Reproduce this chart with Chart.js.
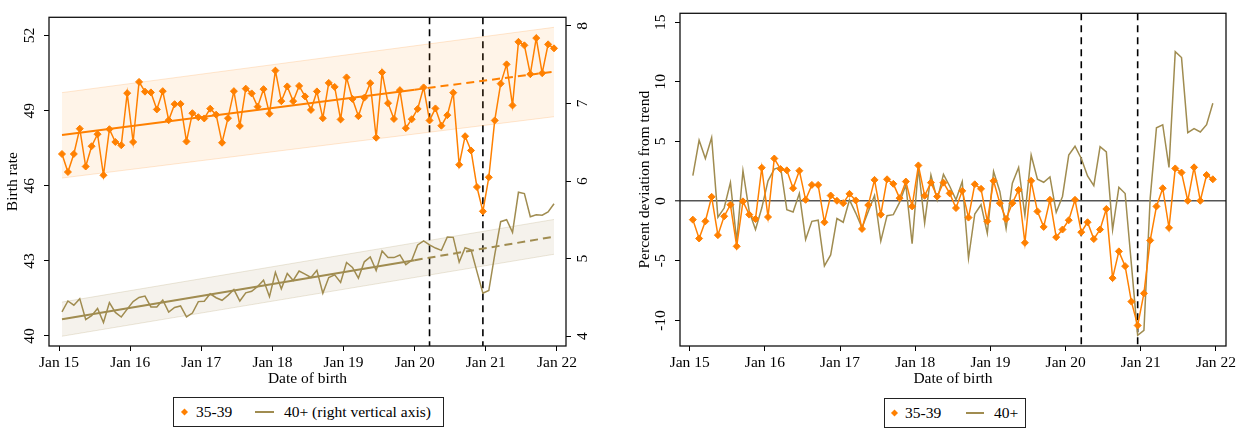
<!DOCTYPE html>
<html>
<head>
<meta charset="utf-8">
<script src="https://cdn.jsdelivr.net/npm/chart.js@4.4.0/dist/chart.umd.min.js"></script>
<style>
  body { margin: 0; background: #fff; width: 1247px; height: 428px; position: relative; overflow: hidden;
         font-family: 'Liberation Serif', 'Times New Roman', serif; color: #000; }
  #c1 { position: absolute; left: 0; top: 0; }
  #c2 { position: absolute; left: 620px; top: 0; }
  .legend { position: absolute; border: 1px solid #222; box-sizing: border-box; height: 30px; font-size: 15.5px; }
  .legend span { position: absolute; top: 50%; transform: translateY(-50%); white-space: nowrap; }
  .legend .dia { width: 5px; height: 5px; background: #ff8000; transform: translateY(-50%) rotate(45deg); margin-left: -2.5px; }
  .legend .ln { height: 2px; background: #a08c50; }
</style>
</head>
<body>
<canvas id="c1" width="615" height="392"></canvas>
<canvas id="c2" width="627" height="392"></canvas>

<div class="legend" style="left:173px; top:397px; width:271px;">
  <span class="dia" style="left:10px;"></span>
  <span style="left:22px;">35-39</span>
  <span class="ln" style="left:81px; width:19px;"></span>
  <span style="left:110px;">40+ (right vertical axis)</span>
</div>
<div class="legend" style="left:884px; top:398px; width:142px;">
  <span class="dia" style="left:9px;"></span>
  <span style="left:20px;">35-39</span>
  <span class="ln" style="left:81px; width:18px;"></span>
  <span style="left:109px;">40+</span>
</div>

<script>
// months counted from Jan 2015, each value sits at mid-month
const xTickMonths = [0, 12, 24, 36, 48, 60, 72, 84];
const xTickLabels = ['Jan 15', 'Jan 16', 'Jan 17', 'Jan 18', 'Jan 19', 'Jan 20', 'Jan 21', 'Jan 22'];
const breakMonths = [62.5, 71.5]; // Mar 2020, Dec 2020

// birth rate, age 35-39 (left axis)
const rate3539 = [
  47.27, 46.55, 47.27, 48.28, 46.77, 47.58, 48.06, 46.42, 48.26, 47.75, 47.62, 49.70,
  47.75, 50.15, 49.76, 49.73, 49.05, 49.78, 48.62, 49.26, 49.27, 47.77, 48.90, 48.74,
  48.69, 49.08, 48.84, 47.72, 48.70, 49.78, 48.39, 49.88, 49.69, 49.16, 49.86, 48.88,
  50.60, 49.38, 49.97, 49.38, 49.99, 49.57, 49.03, 49.77, 48.70, 50.11, 49.95, 48.65,
  50.33, 49.47, 48.78, 49.52, 50.10, 47.92, 50.53, 49.30, 48.67, 49.82, 48.30, 48.66,
  49.07, 49.93, 48.61, 49.09, 48.40, 48.82, 49.72, 46.84, 47.98, 47.41, 45.95, 44.98,
  46.34, 48.61, 50.08, 50.85, 49.21, 51.75, 51.61, 50.46, 51.90, 50.50, 51.65, 51.49
];
// birth rate, age 40+ (right axis)
const rate40 = [
  4.315, 4.454, 4.400, 4.484, 4.215, 4.265, 4.357, 4.177, 4.433, 4.307, 4.248, 4.349,
  4.446, 4.500, 4.517, 4.378, 4.378, 4.467, 4.310, 4.370, 4.390, 4.248, 4.299, 4.446,
  4.450, 4.547, 4.496, 4.463, 4.526, 4.601, 4.454, 4.559, 4.580, 4.640, 4.723, 4.509,
  4.824, 4.610, 4.808, 4.719, 4.840, 4.800, 4.757, 4.850, 4.555, 4.757, 4.791, 4.694,
  4.950, 4.887, 4.749, 4.959, 5.022, 4.845, 5.098, 5.013, 5.013, 5.047, 4.921, 4.980,
  5.177, 5.228, 5.177, 5.136, 5.106, 5.278, 5.274, 4.955, 5.140, 5.114, 4.833, 4.555,
  4.589, 5.051, 5.476, 5.502, 5.338, 5.855, 5.838, 5.539, 5.565, 5.560, 5.602, 5.707
];

// pre-2020 linear trends (solid, then dashed extrapolation) and their bands
const trendMonths = [0.5, 60, 83.5];
const trend3539 = [48.03, 49.84, 50.56];
const trend40 = [4.218, 4.98, 5.283];
const bandMonths = [0.5, 83.5];
const band3539Low = [46.31, 48.76];
const band3539High = [49.72, 52.33];
const band40Low = [4.00, 5.056];
const band40High = [4.44, 5.505];

// percent deviation from trend
const dev3539 = [
  -1.55, -3.13, -1.69, 0.36, -2.85, -1.27, -0.30, -3.79, -0.02, -1.13, -1.50, 2.80,
  -1.33, 3.57, 2.69, 2.58, 1.08, 2.55, 0.11, 1.36, 1.36, -1.77, 0.47, 0.03,
  -0.17, 0.61, 0.06, -2.33, -0.33, 1.78, -1.13, 1.83, 1.45, 0.25, 1.64, -0.44,
  2.99, 0.45, 1.55, 0.39, 1.55, 0.65, -0.58, 0.86, -1.38, 1.41, 1.03, -1.69,
  1.70, -0.17, -1.50, -0.17, 0.94, -3.49, 1.70, -0.86, -2.16, 0.11, -3.02, -2.38,
  -1.60, 0.11, -2.60, -1.77, -3.18, -2.38, -0.66, -6.45, -4.21, -5.45, -8.42, -10.42,
  -7.73, -3.29, -0.44, 1.08, -2.24, 2.74, 2.39, 0.03, 2.83, 0.03, 2.19, 1.83
];
const dev40 = [
  2.14, 5.10, 3.57, 5.32, -1.35, -0.58, 1.55, -3.35, 2.55, -0.86, -2.38, -0.58,
  1.70, 2.69, 2.86, -0.72, -0.91, 0.64, -3.21, -1.69, -1.60, -5.43, -4.51, -1.46,
  -1.77, 0.11, -1.00, -2.24, -0.86, 0.47, -3.35, -1.22, -1.13, -0.11, 1.36, -3.57,
  2.80, -1.83, 2.19, 0.11, 2.24, 1.25, 0.11, 1.64, -4.79, -1.08, -0.30, -2.69,
  2.49, 0.81, -2.30, 1.50, 2.83, -1.19, 3.86, 1.83, 1.58, 2.03, -0.94, 0.39,
  3.86, 4.60, 3.57, 2.11, 1.30, 4.57, 4.13, -2.38, 1.16, 0.64, -5.30, -11.25,
  -10.83, 0.25, 6.15, 6.40, 2.83, 12.53, 12.03, 5.74, 6.07, 5.79, 6.40, 8.20
];

const leftTicks = [40, 43, 46, 49, 52];
const rightTicks = [4, 5, 6, 7, 8];
const devTicks = [-10, -5, 0, 5, 10, 15];

const orange = '#ff8000';
const olive = '#a08c50';
const font = { family: "'Liberation Serif', 'Times New Roman', serif", size: 15.5 };
Chart.defaults.font = font;
Chart.defaults.color = '#000';

const monthly = vals => vals.map((v, i) => ({ x: i + 0.5, y: v }));
const pair = (xs, ys) => xs.map((x, k) => ({ x: x, y: ys[k] }));
const setTicks = list => axis => { axis.ticks = list.map(v => ({ value: v })); };

const frameAndBreaks = {
  id: 'frameAndBreaks',
  beforeDatasetsDraw(chart) {
    const { ctx, chartArea: a, scales } = chart;
    ctx.save();
    ctx.strokeStyle = '#000';
    ctx.lineWidth = 1.6;
    ctx.setLineDash([7, 5]);
    breakMonths.forEach(m => {
      const x = scales.x.getPixelForValue(m);
      ctx.beginPath();
      ctx.moveTo(x, a.top);
      ctx.lineTo(x, a.bottom);
      ctx.stroke();
    });
    ctx.restore();
  },
  afterDraw(chart) {
    const { ctx, chartArea: a } = chart;
    ctx.save();
    ctx.strokeStyle = '#111';
    ctx.lineWidth = 1.3;
    ctx.strokeRect(a.left, a.top, a.right - a.left, a.bottom - a.top);
    ctx.restore();
  }
};

const tickGrid = { drawOnChartArea: false, tickLength: 5, tickColor: '#000', tickWidth: 1 };
const yTickOpts = pad => ({ minRotation: 90, maxRotation: 90, crossAlign: 'center', padding: pad, autoSkip: false, color: '#000', font: font });

function xScale(min, max) {
  return {
    type: 'linear', min: min, max: max,
    afterBuildTicks: setTicks(xTickMonths),
    ticks: { callback: v => xTickLabels[xTickMonths.indexOf(v)], autoSkip: false, maxRotation: 0, padding: 3, color: '#000', font: font },
    grid: tickGrid,
    border: { display: false },
    title: { display: true, text: 'Date of birth', color: '#000', font: font, padding: { top: 0, bottom: 4 } },
    afterFit: s => { s.height = 46; }
  };
}

const trendSegment = { borderDash: c => c.p0DataIndex >= 1 ? [8, 5] : undefined };

new Chart(document.getElementById('c1'), {
  type: 'line',
  data: {
    datasets: [
      { label: '35-39', data: monthly(rate3539), yAxisID: 'y', borderColor: orange, borderWidth: 1.5,
        pointStyle: 'rectRot', pointRadius: 3.5, pointBackgroundColor: orange, pointBorderColor: orange, pointBorderWidth: 1 },
      { label: '40+ (right vertical axis)', data: monthly(rate40), yAxisID: 'y1', borderColor: olive, borderWidth: 1.5, pointRadius: 0 },
      { data: pair(trendMonths, trend3539), yAxisID: 'y', borderColor: orange, borderWidth: 2, pointRadius: 0, segment: trendSegment },
      { data: pair(trendMonths, trend40), yAxisID: 'y1', borderColor: olive, borderWidth: 2, pointRadius: 0, segment: trendSegment },
      { data: pair(bandMonths, band3539High), yAxisID: 'y', borderColor: 'rgba(255,128,0,0.18)', borderWidth: 1, pointRadius: 0,
        fill: 5, backgroundColor: 'rgba(255,128,0,0.09)' },
      { data: pair(bandMonths, band3539Low), yAxisID: 'y', borderColor: 'rgba(255,128,0,0.18)', borderWidth: 1, pointRadius: 0, fill: false },
      { data: pair(bandMonths, band40High), yAxisID: 'y1', borderColor: 'rgba(160,140,80,0.2)', borderWidth: 1, pointRadius: 0,
        fill: 7, backgroundColor: 'rgba(160,140,80,0.11)' },
      { data: pair(bandMonths, band40Low), yAxisID: 'y1', borderColor: 'rgba(160,140,80,0.2)', borderWidth: 1, pointRadius: 0, fill: false }
    ]
  },
  options: {
    responsive: false, animation: false, devicePixelRatio: 1,
    layout: { padding: { top: 10, left: 0, right: 0, bottom: 0 } },
    plugins: { legend: { display: false }, tooltip: { enabled: false } },
    scales: {
      x: xScale(-1.69, 85.52),
      y: {
        position: 'left', min: 39.6, max: 52.73,
        afterBuildTicks: setTicks(leftTicks),
        ticks: yTickOpts(6), grid: tickGrid, border: { display: false },
        title: { display: true, text: 'Birth rate', color: '#000', font: font, padding: { top: 4, bottom: 0 } },
        afterFit: s => { s.width = 49; }
      },
      y1: {
        position: 'right', min: 3.874, max: 8.11,
        afterBuildTicks: setTicks(rightTicks),
        ticks: yTickOpts(8), grid: tickGrid, border: { display: false },
        afterFit: s => { s.width = 49; }
      }
    }
  },
  plugins: [frameAndBreaks]
});

new Chart(document.getElementById('c2'), {
  type: 'line',
  data: {
    datasets: [
      { label: '35-39', data: monthly(dev3539), borderColor: orange, borderWidth: 1.5,
        pointStyle: 'rectRot', pointRadius: 3.5, pointBackgroundColor: orange, pointBorderColor: orange, pointBorderWidth: 1 },
      { label: '40+', data: monthly(dev40), borderColor: olive, borderWidth: 1.5, pointRadius: 0 }
    ]
  },
  options: {
    responsive: false, animation: false, devicePixelRatio: 1,
    layout: { padding: { top: 10, left: 0, right: 21, bottom: 0 } },
    plugins: { legend: { display: false }, tooltip: { enabled: false } },
    scales: {
      x: xScale(-1.55, 85.6),
      y: {
        position: 'left', min: -12.14, max: 15.74,
        afterBuildTicks: setTicks(devTicks),
        ticks: yTickOpts(4),
        grid: {
          drawOnChartArea: true, tickLength: 5, tickColor: '#000', tickWidth: 1,
          color: c => (c.tick && c.tick.value === 0) ? '#555' : 'rgba(0,0,0,0)',
          lineWidth: c => (c.tick && c.tick.value === 0) ? 1.6 : 1
        },
        border: { display: false },
        title: { display: true, text: 'Percent deviation from trend', color: '#000', font: font, padding: { top: 16, bottom: 0 } },
        afterFit: s => { s.width = 60; }
      }
    }
  },
  plugins: [frameAndBreaks]
});
</script>
</body>
</html>
